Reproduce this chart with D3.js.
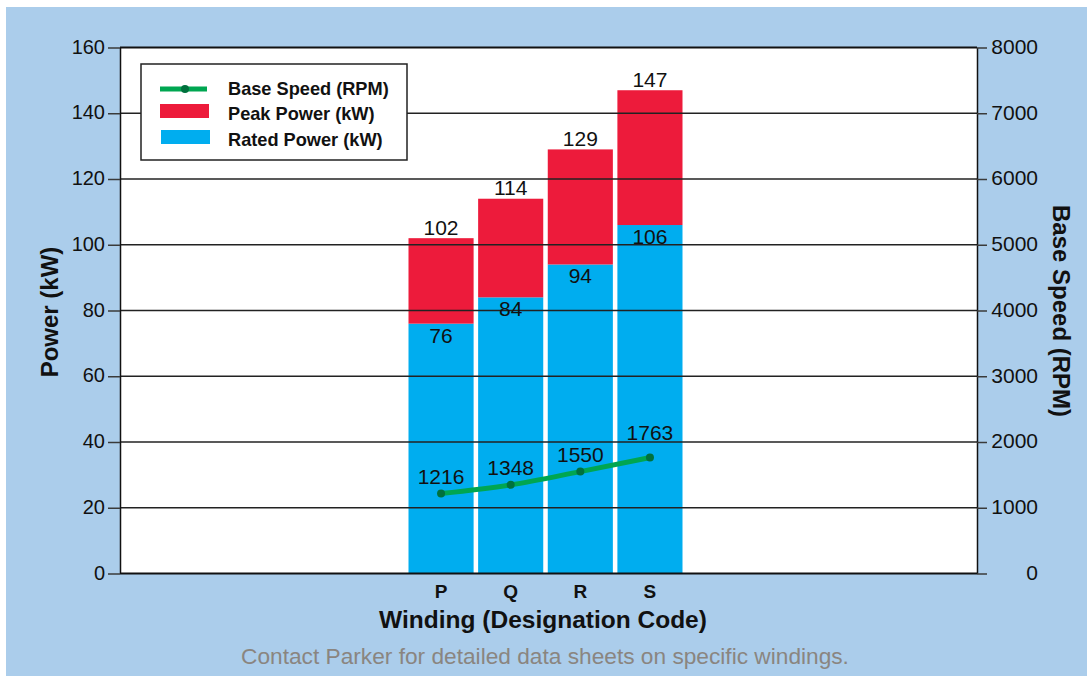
<!DOCTYPE html>
<html>
<head>
<meta charset="utf-8">
<script src="https://cdn.jsdelivr.net/npm/d3@7"></script>
<style>
  html, body { margin: 0; padding: 0; background: #ffffff; }
  svg { display: block; font-family: "Liberation Sans", Arial, Helvetica, sans-serif; }
</style>
</head>
<body>
<svg id="chart" width="1087" height="676"></svg>
<script>
const categories = ["P", "Q", "R", "S"];
const ratedPower = [76, 84, 94, 106];
const peakPower = [102, 114, 129, 147];
const baseSpeed = [1216, 1348, 1550, 1763];
const powerTicks = [0, 20, 40, 60, 80, 100, 120, 140, 160];
const speedTicks = [0, 1000, 2000, 3000, 4000, 5000, 6000, 7000, 8000];
const seriesNames = ["Base Speed (RPM)", "Peak Power (kW)", "Rated Power (kW)"];
const xTitle = "Winding (Designation Code)";
const yLeftTitle = "Power (kW)";
const yRightTitle = "Base Speed (RPM)";
const footer = "Contact Parker for detailed data sheets on specific windings.";

const W = 1087, H = 676;
const plot = { left: 120, right: 977, top: 47.5, bottom: 573.5 };
const colors = { bg: "#abcdeb", rated: "#00adef", peak: "#ed1b3b", line: "#00a651", marker: "#00713d", footer: "#8a8580" };

const svg = d3.select("#chart");

// background
svg.append("rect").attr("x", 6).attr("y", 7).attr("width", W - 6).attr("height", H - 7).attr("fill", colors.bg);
svg.append("rect").attr("x", plot.left).attr("y", plot.top)
  .attr("width", plot.right - plot.left).attr("height", plot.bottom - plot.top).attr("fill", "#fff");

const yL = d3.scaleLinear().domain([0, 160]).range([plot.bottom, plot.top]);
const yR = d3.scaleLinear().domain([0, 8000]).range([plot.bottom, plot.top]);
const x = d3.scaleBand().domain(categories).range([408.5, 682.5]).paddingInner(0.065).paddingOuter(0);

const rows = categories.map((c, i) => ({ c, rated: ratedPower[i], peak: peakPower[i], speed: baseSpeed[i] }));

// bars
const bars = svg.append("g");
bars.selectAll("rect.rated").data(rows).join("rect")
  .attr("x", d => x(d.c)).attr("width", x.bandwidth())
  .attr("y", d => yL(d.rated)).attr("height", d => yL(0) - yL(d.rated))
  .attr("fill", colors.rated);
bars.selectAll("rect.peak").data(rows).join("rect")
  .attr("x", d => x(d.c)).attr("width", x.bandwidth())
  .attr("y", d => yL(d.peak)).attr("height", d => yL(d.rated) - yL(d.peak))
  .attr("fill", colors.peak);

// gridlines (drawn over bars)
svg.append("g").selectAll("line").data(powerTicks.filter(t => t > 0 && t < 160)).join("line")
  .attr("x1", plot.left).attr("x2", plot.right)
  .attr("y1", d => yL(d)).attr("y2", d => yL(d))
  .attr("stroke", "#222").attr("stroke-width", 1.6);

// axes
const axL = svg.append("g").attr("transform", `translate(${plot.left},0)`)
  .call(d3.axisLeft(yL).tickValues(powerTicks).tickFormat(d3.format("d")).tickSize(12).tickPadding(3).tickSizeOuter(0));
const axR = svg.append("g").attr("transform", `translate(${plot.right},0)`)
  .call(d3.axisRight(yR).tickValues(speedTicks).tickFormat(d3.format("d")).tickSize(10).tickPadding(3).tickSizeOuter(0));
[axL, axR].forEach(a => {
  a.select(".domain").attr("stroke", "#111").attr("stroke-width", 1.5);
  a.selectAll(".tick line").attr("stroke", "#3a3a3a").attr("stroke-width", 1.5);
  a.selectAll(".tick text").attr("fill", "#111").attr("font-family", "Liberation Sans, Arial, sans-serif");
});
axL.selectAll(".tick text").attr("font-size", 20).attr("dy", "0.28em");
axR.selectAll(".tick text").attr("font-size", 21).attr("dy", "0.28em")
  .attr("text-anchor", "end").attr("x", 1038 - plot.right);

// top and bottom frame
svg.append("line").attr("x1", plot.left).attr("x2", plot.right).attr("y1", plot.top).attr("y2", plot.top)
  .attr("stroke", "#111").attr("stroke-width", 2);
svg.append("line").attr("x1", plot.left).attr("x2", plot.right).attr("y1", plot.bottom).attr("y2", plot.bottom)
  .attr("stroke", "#111").attr("stroke-width", 2.2);

// category labels
svg.append("g").selectAll("text").data(categories).join("text")
  .attr("x", d => x(d) + x.bandwidth() / 2).attr("y", 598)
  .attr("text-anchor", "middle").attr("font-size", 19).attr("font-weight", "bold").attr("fill", "#111")
  .text(d => d);

// value labels
svg.append("g").selectAll("text").data(rows).join("text")
  .attr("x", d => x(d.c) + x.bandwidth() / 2).attr("y", d => yL(d.peak) - 3.5)
  .attr("text-anchor", "middle").attr("font-size", 21).attr("fill", "#111").text(d => d.peak);
svg.append("g").selectAll("text").data(rows).join("text")
  .attr("x", d => x(d.c) + x.bandwidth() / 2).attr("y", d => yL(d.rated) + 19)
  .attr("text-anchor", "middle").attr("font-size", 21).attr("fill", "#111").text(d => d.rated);

// line
const cx = d => x(d.c) + x.bandwidth() / 2;
svg.append("path").datum(rows)
  .attr("d", d3.line().x(cx).y(d => yR(d.speed)).curve(d3.curveMonotoneX))
  .attr("fill", "none").attr("stroke", colors.line).attr("stroke-width", 5).attr("stroke-linecap", "round");
svg.append("g").selectAll("circle").data(rows).join("circle")
  .attr("cx", cx).attr("cy", d => yR(d.speed)).attr("r", 4).attr("fill", colors.marker);

// line labels: placed above point; moved above a gridline if they would cross it
const gridYs = powerTicks.map(t => yL(t));
svg.append("g").selectAll("text").data(rows).join("text")
  .attr("x", cx)
  .attr("y", d => {
    let base = yR(d.speed) - 10;
    const top = base - 15;
    gridYs.forEach(g => { if (g > top - 1 && g < base + 1) base = g - 2; });
    return base;
  })
  .attr("text-anchor", "middle").attr("font-size", 21).attr("fill", "#111").text(d => d.speed);

// legend
const lg = svg.append("g");
lg.append("rect").attr("x", 141).attr("y", 64).attr("width", 266).attr("height", 96)
  .attr("fill", "#fff").attr("stroke", "#222").attr("stroke-width", 1.5);
lg.append("line").attr("x1", 160).attr("x2", 207).attr("y1", 89).attr("y2", 89)
  .attr("stroke", colors.line).attr("stroke-width", 5);
lg.append("circle").attr("cx", 185).attr("cy", 89).attr("r", 4).attr("fill", colors.marker);
lg.append("rect").attr("x", 160).attr("y", 104).attr("width", 49).attr("height", 14).attr("fill", colors.peak);
lg.append("rect").attr("x", 161).attr("y", 130).attr("width", 49).attr("height", 14).attr("fill", colors.rated);
lg.selectAll("text").data(seriesNames).join("text")
  .attr("x", 228).attr("y", (d, i) => 94.5 + i * 25.5)
  .attr("font-size", 18.2).attr("font-weight", "bold").attr("fill", "#111").text(d => d);

// titles
svg.append("text").attr("transform", `translate(58,312) rotate(-90)`)
  .attr("text-anchor", "middle").attr("font-size", 24).attr("font-weight", "bold").attr("fill", "#111").text(yLeftTitle);
svg.append("text").attr("transform", `translate(1053,311) rotate(90)`)
  .attr("text-anchor", "middle").attr("font-size", 24).attr("font-weight", "bold").attr("fill", "#111").text(yRightTitle);
svg.append("text").attr("x", 543).attr("y", 628)
  .attr("text-anchor", "middle").attr("font-size", 24.5).attr("font-weight", "bold").attr("fill", "#111").text(xTitle);
svg.append("text").attr("x", 545).attr("y", 664)
  .attr("text-anchor", "middle").attr("font-size", 22.7).attr("fill", colors.footer).text(footer);
</script>
</body>
</html>
